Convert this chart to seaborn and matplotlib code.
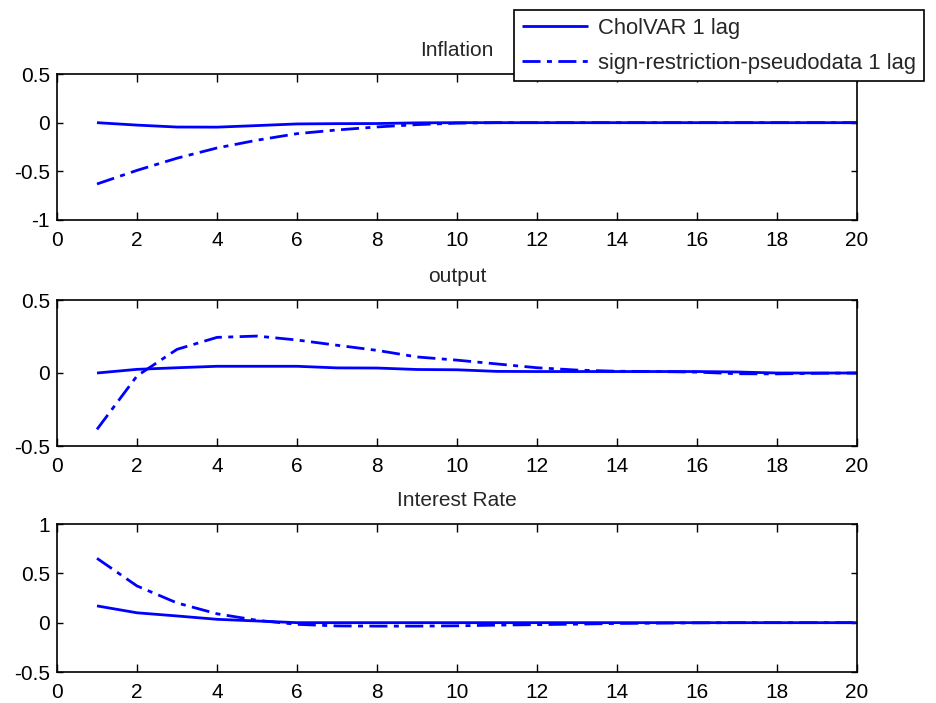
import numpy as np
import pandas as pd
import matplotlib
matplotlib.use("Agg")
import matplotlib.pyplot as plt
from matplotlib.ticker import FormatStrFormatter
import seaborn as sns

# ---- data ----
horizon = list(range(1, 21))
series_names = ["CholVAR 1 lag", "sign-restriction-pseudodata 1 lag"]
panel_titles = ["Inflation", "output", "Interest Rate"]

inflation_chol = [0.0, -0.025, -0.045, -0.046, -0.03, -0.013, -0.01, -0.009, -0.002, 0.0,
                  0.0, 0.0, 0.0, 0.0, 0.0, 0.0, 0.0, 0.0, 0.0, 0.0]
inflation_sign = [-0.63, -0.49, -0.365, -0.26, -0.18, -0.113, -0.075, -0.044, -0.02, -0.005,
                  0.0, 0.0, 0.0, 0.0, 0.0, 0.0, 0.0, 0.0, 0.0, 0.0]
output_chol = [0.0, 0.025, 0.036, 0.046, 0.046, 0.046, 0.035, 0.034, 0.024, 0.022,
               0.011, 0.01, 0.01, 0.01, 0.01, 0.01, 0.007, 0.0, 0.0, 0.0]
output_sign = [-0.386, -0.02, 0.162, 0.244, 0.253, 0.226, 0.19, 0.155, 0.11, 0.088,
               0.062, 0.036, 0.02, 0.012, 0.01, 0.006, -0.005, -0.006, -0.002, 0.0]
rate_chol = [0.17, 0.10, 0.068, 0.034, 0.017, 0.0, 0.0, 0.0, 0.0, 0.0,
             0.0, 0.0, 0.0, 0.0, 0.0, 0.0, 0.0, 0.0, 0.0, 0.0]
rate_sign = [0.652, 0.372, 0.2, 0.09, 0.024, -0.017, -0.033, -0.035, -0.035, -0.032,
             -0.025, -0.02, -0.015, -0.008, -0.005, -0.002, 0.0, 0.0, 0.0, 0.0]

panel_data = [(inflation_chol, inflation_sign), (output_chol, output_sign), (rate_chol, rate_sign)]
y_limits = [(-1, 0.5), (-0.5, 0.5), (-0.5, 1)]
y_ticks = [[-1, -0.5, 0, 0.5], [-0.5, 0, 0.5], [-0.5, 0, 0.5, 1]]
x_ticks = list(range(0, 21, 2))

# ---- style ----
sns.set_style("white")
plt.rcParams["font.family"] = ["Liberation Sans", "DejaVu Sans"]
plt.rcParams["axes.unicode_minus"] = False

fig = plt.figure(figsize=(9.37, 7.03), dpi=100)
W, H = 937, 703
boxes = [(74, 220), (300, 446), (524, 672)]
left_px, right_px = 57, 857

dash_map = {series_names[0]: "", series_names[1]: (6.5, 2.3, 1.8, 2.3)}
pal = {series_names[0]: "#0000ff", series_names[1]: "#0000ff"}

axes = []
for i, (top, bot) in enumerate(boxes):
    ax = fig.add_axes([left_px / W, 1 - bot / H, (right_px - left_px) / W, (bot - top) / H])
    a, b = panel_data[i]
    df = pd.DataFrame({
        "h": horizon * 2,
        "v": a + b,
        "series": [series_names[0]] * len(a) + [series_names[1]] * len(b),
    })
    sns.lineplot(data=df, x="h", y="v", hue="series", style="series",
                 hue_order=series_names, style_order=series_names,
                 palette=pal, dashes=dash_map, linewidth=2.0,
                 errorbar=None, legend=False, ax=ax)
    for ln in ax.lines:
        ln.set_dash_capstyle("butt")
        ln.set_solid_capstyle("butt")
    ax.set_xlim(0, 20)
    ax.set_ylim(*y_limits[i])
    ax.set_xticks(x_ticks)
    ax.set_yticks(y_ticks[i])
    ax.yaxis.set_major_formatter(FormatStrFormatter("%g"))
    ax.set_xlabel("")
    ax.set_ylabel("")
    ax.set_title(panel_titles[i], fontsize=15, pad=13)
    for s in ax.spines.values():
        s.set_visible(True)
        s.set_color("black")
        s.set_linewidth(1.2)
    ax.tick_params(axis="x", direction="in", length=5.5, width=1.0, pad=8,
                   labelsize=15, top=True, bottom=True, colors="black")
    ax.tick_params(axis="y", direction="in", length=4.5, width=1.0, pad=5,
                   labelsize=15, left=True, right=True, colors="black")
    axes.append(ax)

leg = fig.legend(handles=axes[0].lines[:2], labels=series_names,
                 loc="upper right", bbox_to_anchor=(924 / W, 1 - 10 / H),
                 bbox_transform=fig.transFigure, borderaxespad=0,
                 fontsize=15.8, handlelength=3.0, handletextpad=0.45,
                 borderpad=0.36, labelspacing=0.62, fancybox=False,
                 frameon=True, framealpha=1)
leg.get_frame().set_edgecolor("black")
leg.get_frame().set_linewidth(1.2)

fig.savefig("out.png", dpi=100)
